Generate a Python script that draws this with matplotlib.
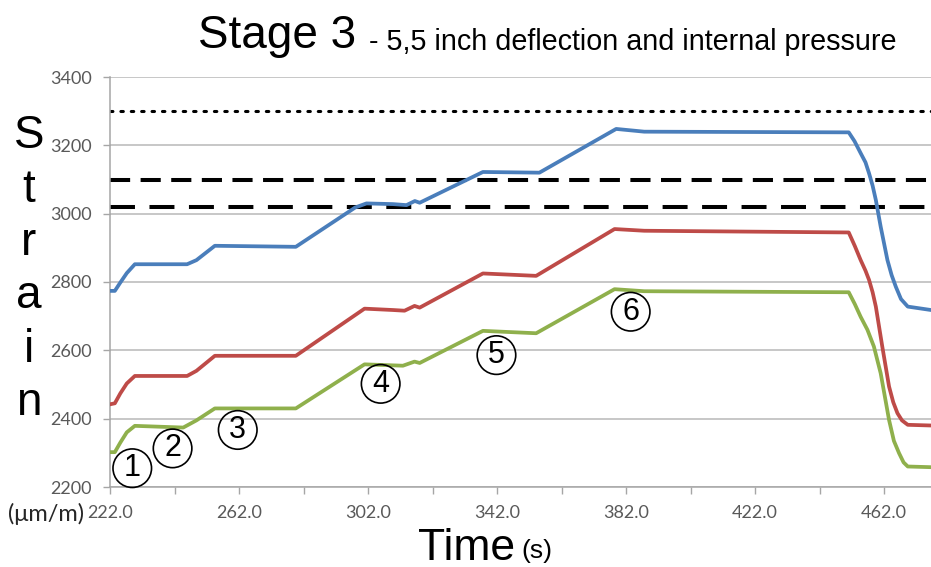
import matplotlib
matplotlib.use("Agg")
import matplotlib.pyplot as plt
from matplotlib.ticker import FixedLocator, FuncFormatter

# ---------------- data ----------------
blue_t = [222, 223.5, 225.1, 227.2, 229.7, 245.9, 248.8, 254.5, 279.6, 298.0, 301.5, 309.7,
          313.9, 316.5, 318.0, 337.6, 355.1, 378.9, 387.6, 451.0, 452.8, 454.7, 456.2, 457.3,
          458.4, 459.4, 460.9, 463.0, 464.3, 465.6, 467.2, 469.3, 476.5]
blue_v = [2774, 2774, 2797, 2826, 2852, 2852, 2864, 2906, 2903, 3018, 3030, 3028,
          3025, 3037, 3032, 3122, 3120, 3248, 3240, 3238, 3212, 3177, 3150, 3118,
          3082, 3040, 2962, 2864, 2820, 2786, 2750, 2728, 2718]

red_t = [222, 223.5, 225.2, 227.2, 229.7, 245.9, 248.8, 254.5, 279.6, 300.9, 309.7, 313.3,
         316.4, 318.0, 337.6, 354.1, 378.4, 387.6, 451.0, 452.9, 454.7, 456.2, 457.3, 458.4,
         459.4, 461.4, 463.5, 464.8, 466.1, 467.5, 469.3, 476.5]
red_v = [2442, 2445, 2474, 2503, 2525, 2525, 2540, 2584, 2584, 2722, 2718, 2716,
         2730, 2725, 2825, 2818, 2955, 2950, 2945, 2905, 2864, 2833, 2806, 2770,
         2728, 2611, 2494, 2448, 2416, 2395, 2382, 2380]

green_t = [222, 223.5, 225.2, 227.2, 229.7, 244.7, 248.8, 254.5, 279.6, 300.9, 312.8,
           316.4, 318.0, 337.6, 354.1, 378.4, 387.6, 451.0, 452.9, 454.7, 456.8, 458.8,
           460.9, 463.5, 465.0, 466.6, 468.0, 469.3, 476.5]
green_v = [2302, 2302, 2330, 2360, 2379, 2374, 2395, 2430, 2430, 2559, 2555,
           2567, 2563, 2657, 2650, 2779, 2773, 2770, 2735, 2698, 2660, 2611,
           2533, 2396, 2335, 2299, 2272, 2260, 2258]

limit_dotted = 3300
limit_dash_short = 3100
limit_dash_long = 3020

stage_labels = ["1", "2", "3", "4", "5", "6"]
stage_t = [228.9, 241.4, 261.6, 305.9, 341.8, 383.4]
stage_v = [2255, 2313, 2367, 2502, 2586, 2713]

x_major = [222, 262, 302, 342, 382, 422, 462]
x_minor = [242, 282, 322, 362, 402, 442]
y_ticks = [2200, 2400, 2600, 2800, 3000, 3200, 3400]

# ---------------- figure ----------------
W, H = 931, 567
fig = plt.figure(figsize=(W / 100, H / 100), dpi=100)
ax = fig.add_axes([110 / W, 1 - 487 / H, (W - 110) / W, (487 - 77) / H])

ax.set_xlim(222, 476.5)
ax.set_ylim(2200, 3400)

for yv in y_ticks:
    ax.axhline(yv, color="#b8b8b8", lw=1.1, zorder=0)

ax.axhline(limit_dotted, color="black", lw=2.2, ls=(0, (0.8, 2.6)), dash_capstyle="round", zorder=1)
ax.axhline(limit_dash_short, color="black", lw=2.9, ls=(0, (5.0, 2.6)), zorder=1)
ax.axhline(limit_dash_long, color="black", lw=2.9, ls=(0, (6.2, 3.6)), zorder=1)

ax.plot(blue_t, blue_v, color="#4a7ebb", lw=2.7, zorder=3, solid_joinstyle="round")
ax.plot(red_t, red_v, color="#be4b48", lw=2.7, zorder=3, solid_joinstyle="round")
ax.plot(green_t, green_v, color="#8fb04c", lw=2.7, zorder=3, solid_joinstyle="round")

for lab, t, v in zip(stage_labels, stage_t, stage_v):
    ax.text(t, v, lab, fontsize=22, family="Liberation Sans", ha="center", va="center",
            zorder=4,
            bbox=dict(boxstyle="circle,pad=0.14", fc="none", ec="black", lw=1.2))

for s in ["top", "right"]:
    ax.spines[s].set_visible(False)
for s in ["left", "bottom"]:
    ax.spines[s].set_color("#a6a6a6")
    ax.spines[s].set_linewidth(1.1)

ax.xaxis.set_major_locator(FixedLocator(x_major))
ax.xaxis.set_minor_locator(FixedLocator(x_minor))
ax.xaxis.set_major_formatter(FuncFormatter(lambda x, p: f"{x:.1f}"))
ax.yaxis.set_major_locator(FixedLocator(y_ticks))
ax.yaxis.set_major_formatter(FuncFormatter(lambda y, p: f"{int(y)}"))

ax.tick_params(axis="both", which="both", direction="out", length=5, width=1.0,
               color="#a6a6a6", labelcolor="#595959", labelsize=13)
ax.tick_params(axis="x", which="both", pad=8)
ax.tick_params(axis="y", pad=8)
for lbl in ax.get_xticklabels() + ax.get_yticklabels():
    lbl.set_family("Lato")

# titles
fig.text(198 / W, 1 - 48 / H, "Stage 3", fontsize=33, family="Liberation Sans",
         ha="left", va="baseline")
fig.text(369 / W, 1 - 50 / H, "- 5,5 inch deflection and internal pressure", fontsize=20.7,
         family="Liberation Sans", ha="left", va="baseline")

# vertical stacked y label
for i, ch in enumerate("Strain"):
    fig.text(29 / W, 1 - (148.3 + 53.3 * i) / H, ch, fontsize=33, family="Liberation Sans",
             ha="center", va="baseline")

fig.text(84 / W, 1 - 521 / H, "(\u03bcm/m)", fontsize=17, family="Lato", color="#262626",
         ha="right", va="baseline")

fig.text(418 / W, 1 - 559.5 / H, "Time", fontsize=32, family="Liberation Sans",
         ha="left", va="baseline")
fig.text(521 / W, 1 - 558 / H, "(s)", fontsize=19, family="Liberation Sans",
         ha="left", va="baseline")

fig.savefig("out.png", dpi=100)
